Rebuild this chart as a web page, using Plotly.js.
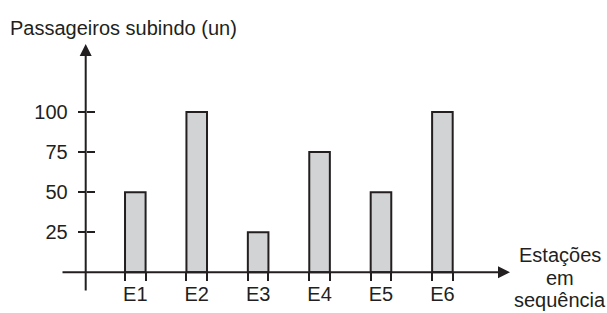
<!DOCTYPE html>
<html>
<head>
<meta charset="utf-8">
<script src="https://cdn.plot.ly/plotly-3.0.1.min.js"></script>
<style>html,body{margin:0;padding:0;background:#fff;}#chart{width:607px;height:313px;}</style>
</head>
<body>
<div id="chart"></div>
<script>
// ---- data ----
const stations = ["E1", "E2", "E3", "E4", "E5", "E6"];
const stationPos = [1, 2, 3, 4, 5, 6];
const passengers = [50, 100, 25, 75, 50, 100];
const yTickVals = [25, 50, 75, 100];
const yTickText = ["25", "50", "75", "100"];
const yTitle = "Passageiros subindo (un)";
const xTitleLines = ["Estações", "em", "sequência"];

// ---- style ----
const W = 607, H = 313;
const ink = "#231f20";
const barFill = "#d2d3d5";
const barWidth = 0.335;
const FONT = "Arial";
const fs = 20;

// bar edge positions for the small ticks below the baseline
const edgeVals = [];
stationPos.forEach(p => { edgeVals.push(p - barWidth / 2, p + barWidth / 2); });

const xRange = [-1.203, 8.680];
const yRange = [-25.39, 169.87];

// layout helpers (pixel -> paper)
const px = v => v / W;
const py = v => (H - v) / H;

const trace = {
  type: "bar",
  x: stationPos,
  y: passengers,
  width: barWidth,
  marker: { color: barFill, line: { color: ink, width: 2 } },
  hoverinfo: "skip"
};

const layout = {
  width: W, height: H,
  margin: { l: 0, r: 0, t: 0, b: 0, pad: 0 },
  paper_bgcolor: "#fff", plot_bgcolor: "rgba(0,0,0,0)",
  showlegend: false,
  font: { family: FONT, size: fs, color: ink },
  xaxis: {
    range: xRange, anchor: "free", position: py(272.3),
    tickmode: "array", tickvals: stationPos, ticktext: stations,
    ticks: "", showline: false, showgrid: false, zeroline: false,
    automargin: false, ticklabelstandoff: 8,
    tickfont: { family: FONT, size: fs, color: ink }
  },
  xaxis2: {
    range: xRange, overlaying: "x", anchor: "free", position: py(272.3),
    tickmode: "array", tickvals: edgeVals, showticklabels: false,
    ticks: "outside", ticklen: 8, tickwidth: 2, tickcolor: ink,
    showline: false, showgrid: false, zeroline: false, automargin: false
  },
  yaxis: {
    range: yRange, anchor: "free", position: px(85.7),
    tickmode: "array", tickvals: yTickVals, ticktext: yTickText,
    ticks: "outside", ticklen: 8, tickwidth: 2, tickcolor: ink,
    showline: false, showgrid: false, zeroline: false, automargin: false,
    ticklabelstandoff: 6,
    tickfont: { family: FONT, size: fs, color: ink }
  },
  yaxis2: {
    range: yRange, overlaying: "y", anchor: "free", position: px(85.7),
    tickmode: "array", tickvals: yTickVals, showticklabels: false,
    ticks: "inside", ticklen: 8, tickwidth: 2, tickcolor: ink,
    showline: false, showgrid: false, zeroline: false, automargin: false
  },
  annotations: [
    // x axis with arrow
    { xref: "paper", yref: "paper", x: px(510), y: py(272.3), ax: -(510 - 61), ay: 0,
      text: "", showarrow: true, arrowhead: 2, arrowsize: 1.2, arrowwidth: 2, arrowcolor: ink },
    // y axis with arrow
    { xref: "paper", yref: "paper", x: px(85.7), y: py(44), ax: 0, ay: 292 - 44,
      text: "", showarrow: true, arrowhead: 2, arrowsize: 1.2, arrowwidth: 2, arrowcolor: ink },
    // y title
    { xref: "paper", yref: "paper", x: px(8), y: py(28), xanchor: "left", yanchor: "middle",
      text: yTitle, showarrow: false, font: { family: FONT, size: fs, color: ink } },
    // x title lines
    { xref: "paper", yref: "paper", x: px(560), y: py(255), xanchor: "center", yanchor: "middle",
      text: xTitleLines[0], showarrow: false, font: { family: FONT, size: fs, color: ink } },
    { xref: "paper", yref: "paper", x: px(560), y: py(278), xanchor: "center", yanchor: "middle",
      text: xTitleLines[1], showarrow: false, font: { family: FONT, size: fs, color: ink } },
    { xref: "paper", yref: "paper", x: px(560), y: py(300), xanchor: "center", yanchor: "middle",
      text: xTitleLines[2], showarrow: false, font: { family: FONT, size: fs, color: ink } }
  ]
};

const trace2 = { type: "scatter", x: [], y: [], xaxis: "x2", yaxis: "y2", hoverinfo: "skip" };

Plotly.newPlot("chart", [trace, trace2], layout, { staticPlot: true, displayModeBar: false });
</script>
</body>
</html>
